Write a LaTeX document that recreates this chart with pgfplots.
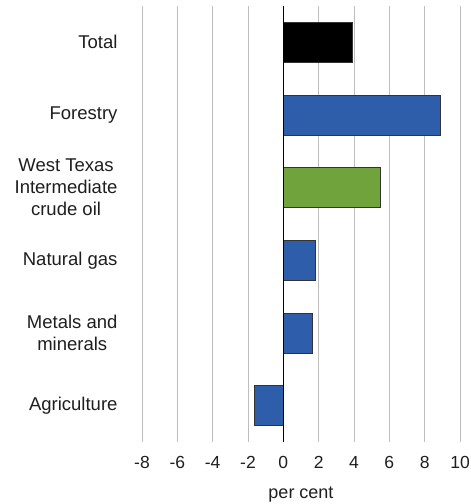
\documentclass[border=0pt]{standalone}
\usepackage{fontspec}
\setmainfont{Liberation Sans}
\usepackage{pgfplots}
\pgfplotsset{compat=1.18}
\definecolor{barblue}{RGB}{46,94,170}
\definecolor{bargreen}{RGB}{112,163,60}
\definecolor{gridgray}{RGB}{190,190,190}
\definecolor{txt}{RGB}{30,30,30}
\begin{document}
\begin{tikzpicture}
\begin{axis}[
  scale only axis,
  width=318pt, height=436pt,
  xmin=-8, xmax=10,
  ymin=-0.5, ymax=5.5,
  y dir=reverse,
  xbar, bar width=0.55, bar shift=0pt,
  xtick={-8,-6,...,10},
  ytick={0,1,2,3,4,5},
  yticklabels={Total,Forestry,{West Texas\\Intermediate\\crude oil},Natural gas,{Metals and\\minerals},Agriculture},
  major tick length=0pt,
  axis line style={draw=none},
  xmajorgrids, grid style={gridgray, line width=0.9pt},
  /pgf/number format/assume math mode=true,
  yticklabel style={font=\fontsize{18.5}{22}\selectfont, text=txt, align=center, xshift=-21pt},
  xticklabel style={font=\fontsize{17.5}{21}\selectfont, text=txt, yshift=-11pt},
  xlabel={per cent},
  xlabel style={font=\fontsize{18}{21.5}\selectfont, text=txt, yshift=-11pt},
  clip=false,
]
\addplot[fill=black, draw=black!80, line width=0.8pt] coordinates {(3.9,0)};
\addplot[fill=barblue, draw=black!80, line width=0.8pt] coordinates {(8.9,1) (1.8,3) (1.65,4) (-1.65,5)};
\addplot[fill=bargreen, draw=black!80, line width=0.8pt] coordinates {(5.5,2)};
\draw[black, line width=1.3pt] (axis cs:0,-0.5) -- (axis cs:0,5.5);
\coordinate (sw) at (axis cs:-8,5.5);
\coordinate (ne) at (axis cs:10,-0.5);
\end{axis}
\pgfresetboundingbox
\path ([xshift=-142pt,yshift=-62pt]sw) rectangle ([xshift=10pt,yshift=6pt]ne);
\end{tikzpicture}
\end{document}
